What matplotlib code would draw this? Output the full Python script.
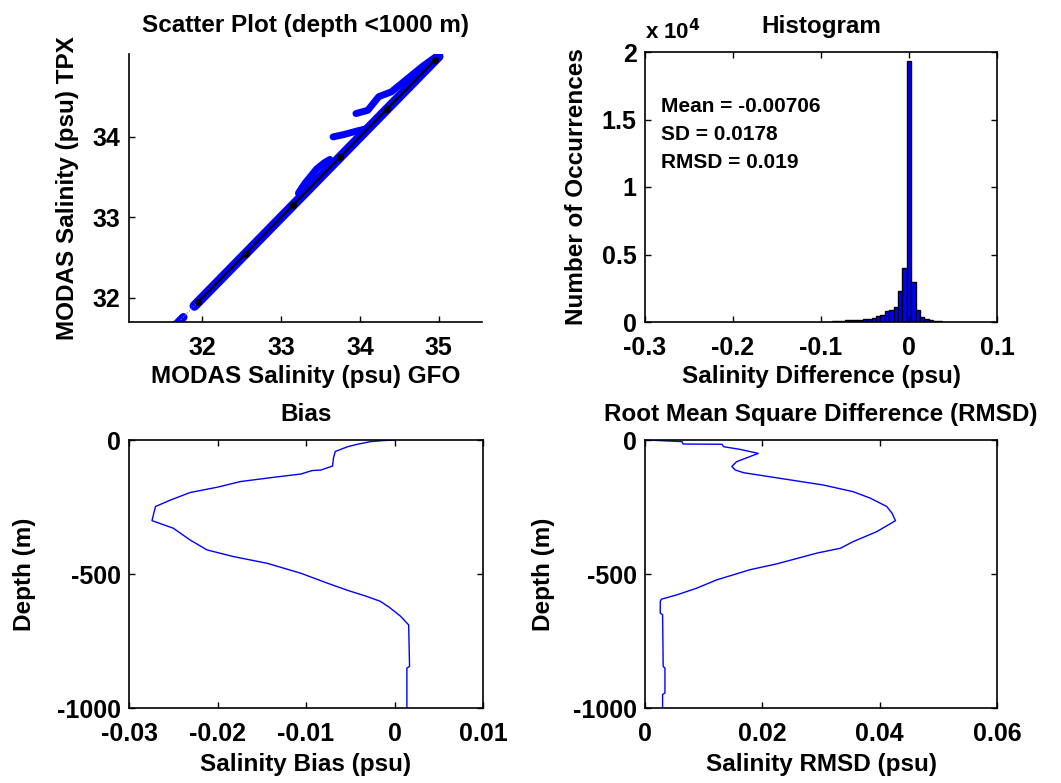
import matplotlib
matplotlib.use("Agg")
import matplotlib.pyplot as plt

# === Data ===
# scatter: main band (GFO vs TPX salinity)
gfo_low = [31.65, 31.70, 31.76]
tpx_low = [31.65, 31.70, 31.76]
gfo_main = [31.90, 32.00, 32.30, 32.60, 32.90, 33.20, 33.50, 33.80, 34.10, 34.40, 34.70, 34.90, 35.00]
tpx_main = [31.90, 32.00, 32.30, 32.60, 32.90, 33.20, 33.50, 33.80, 34.10, 34.40, 34.70, 34.90, 35.00]
# scatter: points lying above the 1:1 band
gfo_hi_a = [33.22, 33.30, 33.45, 33.55, 33.62]
tpx_hi_a = [33.30, 33.42, 33.60, 33.68, 33.72]
gfo_hi_b = [33.66, 33.80, 33.99, 34.08]
tpx_hi_b = [34.00, 34.03, 34.08, 34.10]
gfo_hi_c = [33.95, 34.10, 34.24, 34.40, 34.60, 34.80, 35.00]
tpx_hi_c = [34.29, 34.33, 34.50, 34.56, 34.72, 34.88, 35.02]
# 1:1 reference line with markers
fit_x = [31.95, 32.55, 33.15, 33.75, 34.35, 34.95]
fit_y = [31.95, 32.55, 33.15, 33.75, 34.35, 34.95]
tail_x = [31.65, 31.95]
tail_y = [31.65, 31.95]

# histogram of salinity difference
bin_centers = [-0.085, -0.080, -0.075, -0.070, -0.065, -0.060, -0.055, -0.050, -0.045,
               -0.040, -0.035, -0.030, -0.025, -0.020, -0.015, -0.010, -0.005, 0.000,
               0.005, 0.010, 0.015, 0.020, 0.025, 0.030, 0.035]
bin_counts = [80, 100, 110, 120, 120, 130, 170, 220, 240,
              300, 420, 550, 800, 900, 1100, 2300, 4000, 19300,
              3000, 900, 350, 200, 120, 110, 100]
stats_text = ["Mean = -0.00706", "SD = 0.0178", "RMSD = 0.019"]

# bias profile
bias = [0.0, -0.0012, -0.0027, -0.0042, -0.0053, -0.0067, -0.0069, -0.0070, -0.0083, -0.0093,
        -0.0106, -0.0136, -0.0174, -0.0200, -0.0231, -0.0253, -0.0270, -0.0272, -0.0274, -0.0250,
        -0.0231, -0.0212, -0.0182, -0.0144, -0.0106, -0.0076, -0.0053, -0.0031, -0.0016, -0.0006,
        0.0007, 0.0016, 0.0017, 0.0014, 0.0014]
bias_depth = [0, -2, -6, -16, -25, -43, -68, -97, -112, -114,
              -127, -139, -155, -176, -196, -224, -248, -273, -301, -329,
              -373, -410, -435, -460, -497, -534, -561, -584, -602, -624,
              -658, -690, -845, -851, -1000]

# RMSD profile
rmsd = [0.0, 0.0023, 0.0063, 0.0065, 0.0131, 0.0134, 0.0162, 0.0193, 0.0156, 0.0148,
        0.0154, 0.0168, 0.0230, 0.0304, 0.0355, 0.0384, 0.0412, 0.0421, 0.0427, 0.0395,
        0.0355, 0.0333, 0.0293, 0.0225, 0.0179, 0.0122, 0.0088, 0.0054, 0.0028, 0.0026,
        0.0026, 0.0030, 0.0031, 0.0034, 0.0034, 0.0030, 0.0030]
rmsd_depth = [0, -2, -6, -15, -16, -25, -35, -50, -81, -99,
              -112, -122, -143, -168, -193, -217, -248, -273, -301, -342,
              -379, -404, -422, -462, -484, -522, -553, -578, -594, -602,
              -646, -652, -845, -851, -944, -950, -1000]

# === Style ===
plt.rcParams['font.family'] = ['Liberation Sans', 'DejaVu Sans']
plt.rcParams['font.weight'] = 'bold'
plt.rcParams['axes.labelweight'] = 'bold'
plt.rcParams['axes.titleweight'] = 'bold'
plt.rcParams['axes.unicode_minus'] = False
plt.rcParams['xtick.direction'] = 'in'
plt.rcParams['ytick.direction'] = 'in'
plt.rcParams['axes.linewidth'] = 1.2

TICK_FS = 18
LABEL_FS = 17.5
TITLE_FS = 17.5

W, H = 1061, 783
fig = plt.figure(figsize=(W / 100, H / 100), dpi=100)


def box(l, r, t, b):
    return [l / W, 1 - b / H, (r - l) / W, (b - t) / H]


def style(ax):
    ax.tick_params(labelsize=TICK_FS, length=4, width=1)
    ax.tick_params(axis='x', pad=10)
    ax.tick_params(axis='y', pad=6)
    for lab in ax.get_xticklabels() + ax.get_yticklabels():
        lab.set_fontweight('bold')


# --- scatter ---
ax1 = fig.add_axes(box(129, 482, 54, 322))
ax1.plot(gfo_low, tpx_low, color='blue', lw=6, solid_capstyle='round')
ax1.plot(gfo_main, tpx_main, color='blue', lw=7, solid_capstyle='round')
for gx, ty in [(gfo_hi_a, tpx_hi_a), (gfo_hi_b, tpx_hi_b), (gfo_hi_c, tpx_hi_c)]:
    ax1.plot(gx, ty, color='blue', lw=5, solid_capstyle='round', solid_joinstyle='round')
ax1.plot(tail_x, tail_y, color='gray', lw=0.8, ls=':')
ax1.plot(fit_x, fit_y, color='black', lw=1.5, marker='o', ms=4, mfc='black')
ax1.set_xlim(31.07, 35.55)
ax1.set_ylim(31.7, 35.03)
ax1.set_xticks([32, 33, 34, 35])
ax1.set_yticks([32, 33, 34])
ax1.spines['top'].set_visible(False)
ax1.spines['right'].set_visible(False)
ax1.set_title("Scatter Plot (depth <1000 m)", fontsize=TITLE_FS, pad=16)
ax1.set_xlabel("MODAS Salinity (psu) GFO", fontsize=LABEL_FS, labelpad=4)
ax1.set_ylabel("MODAS Salinity (psu) TPX", fontsize=LABEL_FS, labelpad=10)
style(ax1)

# --- histogram ---
ax2 = fig.add_axes(box(645, 997, 52, 322))
ax2.bar(bin_centers, bin_counts, width=0.005, color='blue', edgecolor='black', lw=1)
ax2.set_xlim(-0.3, 0.1)
ax2.set_ylim(0, 20000)
ax2.set_xticks([-0.3, -0.2, -0.1, 0, 0.1])
ax2.set_xticklabels(["-0.3", "-0.2", "-0.1", "0", "0.1"])
ax2.set_yticks([0, 5000, 10000, 15000, 20000])
ax2.set_yticklabels(["0", "0.5", "1", "1.5", "2"])
ax2.tick_params(top=True, right=True)
ax2.set_title("Histogram", fontsize=TITLE_FS, pad=14)
ax2.text(0.0, 1.03, r"x 10$^{4}$", transform=ax2.transAxes, fontsize=16,
         fontweight='bold', ha='left', va='bottom')
ax2.set_xlabel("Salinity Difference (psu)", fontsize=LABEL_FS, labelpad=4)
ax2.set_ylabel("Number of Occurrences", fontsize=LABEL_FS, labelpad=10)
for i, s in enumerate(stats_text):
    ax2.text(-0.282, 15970 - i * 2080, s, fontsize=15, fontweight='bold', va='center')
style(ax2)

# --- bias ---
ax3 = fig.add_axes(box(129, 483, 440, 708))
ax3.plot(bias, bias_depth, color='blue', lw=1.0)
ax3.set_xlim(-0.03, 0.01)
ax3.set_ylim(-1000, 0)
ax3.set_xticks([-0.03, -0.02, -0.01, 0, 0.01])
ax3.set_xticklabels(["-0.03", "-0.02", "-0.01", "0", "0.01"])
ax3.set_yticks([-1000, -500, 0])
ax3.tick_params(top=True, right=True)
ax3.set_title("Bias", fontsize=TITLE_FS, pad=14)
ax3.set_xlabel("Salinity Bias (psu)", fontsize=LABEL_FS, labelpad=5)
ax3.set_ylabel("Depth (m)", fontsize=LABEL_FS, labelpad=15)
style(ax3)

# --- RMSD ---
ax4 = fig.add_axes(box(645, 997, 440, 708))
ax4.plot(rmsd, rmsd_depth, color='blue', lw=1.0)
ax4.set_xlim(0, 0.06)
ax4.set_ylim(-1000, 0)
ax4.set_xticks([0, 0.02, 0.04, 0.06])
ax4.set_xticklabels(["0", "0.02", "0.04", "0.06"])
ax4.set_yticks([-1000, -500, 0])
ax4.tick_params(top=True, right=True)
ax4.set_title("Root Mean Square Difference (RMSD)", fontsize=TITLE_FS, pad=14)
ax4.set_xlabel("Salinity RMSD (psu)", fontsize=LABEL_FS, labelpad=5)
ax4.set_ylabel("Depth (m)", fontsize=LABEL_FS, labelpad=13)
style(ax4)

fig.savefig("out.png", dpi=100)
